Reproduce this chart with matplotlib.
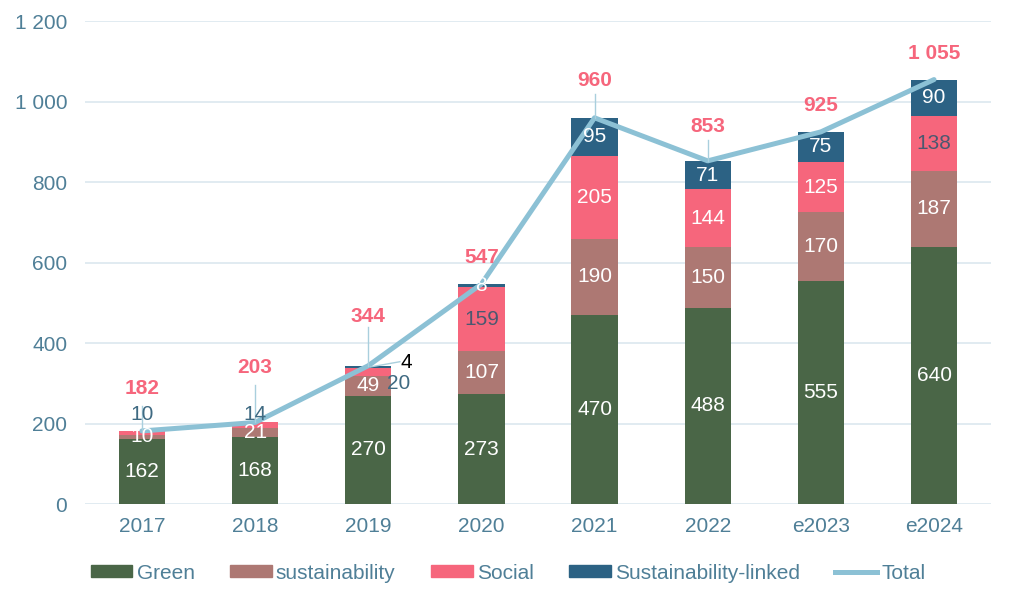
import numpy as np
import matplotlib
matplotlib.use('Agg')
import matplotlib.pyplot as plt
from matplotlib.patches import Patch
from matplotlib.lines import Line2D

years = ['2017', '2018', '2019', '2020', '2021', '2022', 'e2023', 'e2024']
green = [162, 168, 270, 273, 470, 488, 555, 640]
sustainability = [10, 21, 49, 107, 190, 150, 170, 187]
social = [10, 14, 20, 159, 205, 144, 125, 138]
linked = [0, 0, 4, 8, 95, 71, 75, 90]
total = [182, 203, 344, 547, 960, 853, 925, 1055]

c_green = '#4a6647'
c_sust = '#ad7873'
c_social = '#f6667c'
c_linked = '#2c6284'
c_total = '#8cc1d5'
c_text = '#4f7f97'
c_grid = '#dce8ef'

plt.rcParams['font.family'] = ['Liberation Sans', 'DejaVu Sans']

fig = plt.figure(figsize=(10.16, 6.06), dpi=100)
ax = fig.add_axes([0.084, 0.168, 0.891, 0.797])

x = np.arange(len(years))
w = 0.41
g = np.array(green)
s = np.array(sustainability)
so = np.array(social)
li = np.array(linked)

ax.bar(x, g, w, color=c_green, zorder=2)
ax.bar(x, s, w, bottom=g, color=c_sust, zorder=2)
ax.bar(x, so, w, bottom=g + s, color=c_social, zorder=2)
ax.bar(x, li, w, bottom=g + s + so, color=c_linked, zorder=2)

fs = 15

def fmt(v):
    return f'{int(v):,}'.replace(',', ' ')

# labels inside the segments
for i in range(len(years)):
    ax.text(x[i], g[i] / 2, fmt(g[i]), ha='center', va='center', color='white', fontsize=fs, zorder=5)
    ax.text(x[i], g[i] + s[i] / 2, fmt(s[i]), ha='center', va='center', color='white', fontsize=fs, zorder=5)
    if so[i] >= 100:
        col = '#4b5870' if years[i] in ('2020', 'e2024') else 'white'
        ax.text(x[i], g[i] + s[i] + so[i] / 2, fmt(so[i]), ha='center', va='center', color=col, fontsize=fs, zorder=5)
    if li[i] >= 8:
        ax.text(x[i], g[i] + s[i] + so[i] + li[i] / 2, fmt(li[i]), ha='center', va='center', color='white', fontsize=fs, zorder=5)

# small labels moved outside the bars
ax.text(0, 224, fmt(social[0]), ha='center', va='center', color='#3f6a82', fontsize=fs, zorder=5)
ax.text(1, 224, fmt(social[1]), ha='center', va='center', color='#3f6a82', fontsize=fs, zorder=5)
ax.text(2.27, 300, fmt(social[2]), ha='center', va='center', color='#3f6a82', fontsize=fs, zorder=5)
ax.text(2.34, 352, fmt(linked[2]), ha='center', va='center', color='black', fontsize=fs, zorder=5)
ax.plot([2.02, 2.28], [341, 354], color='#a9cfdd', lw=1, zorder=4)

# total line
ax.plot(x, total, color=c_total, lw=3.6, zorder=3, solid_capstyle='round')

# total labels
total_pos = [288, 340, 466, 614, 1053, 939, 991, 1120]
for i in range(len(years)):
    ax.text(x[i], total_pos[i], fmt(total[i]), ha='center', va='center', color=c_social,
            fontsize=fs, fontweight='bold', zorder=5)

# leader lines
for i, (y0, y1) in {0: (183, 245), 1: (205, 295), 2: (344, 440), 4: (960, 1020), 5: (853, 905)}.items():
    ax.plot([x[i], x[i]], [y0, y1], color='#a9cfdd', lw=1, zorder=4)

ax.set_xlim(-0.5, 7.5)
ax.set_ylim(0, 1200)
ax.set_yticks(np.arange(0, 1201, 200))
ax.set_yticklabels([fmt(v) for v in np.arange(0, 1201, 200)])
ax.set_xticks(x)
ax.set_xticklabels(years)
ax.yaxis.grid(True, color=c_grid, lw=1.2, zorder=0)
ax.set_axisbelow(True)
for sp in ax.spines.values():
    sp.set_visible(False)
ax.tick_params(axis='y', length=0, pad=13, labelsize=fs, labelcolor=c_text)
ax.tick_params(axis='x', length=0, pad=9, labelsize=fs, labelcolor=c_text)

handles = [Patch(color=c_green), Patch(color=c_sust), Patch(color=c_social), Patch(color=c_linked),
           Line2D([0], [0], color=c_total, lw=3.6)]
labels = ['Green', 'sustainability', 'Social', 'Sustainability-linked', 'Total']
leg = fig.legend(handles, labels, loc='center', bbox_to_anchor=(0.5, 0.054), ncol=5, frameon=False,
                 fontsize=fs, handlelength=2.0, handleheight=0.5, handletextpad=0.2, columnspacing=1.7)
for t in leg.get_texts():
    t.set_color(c_text)

fig.savefig('out.png', dpi=100)
